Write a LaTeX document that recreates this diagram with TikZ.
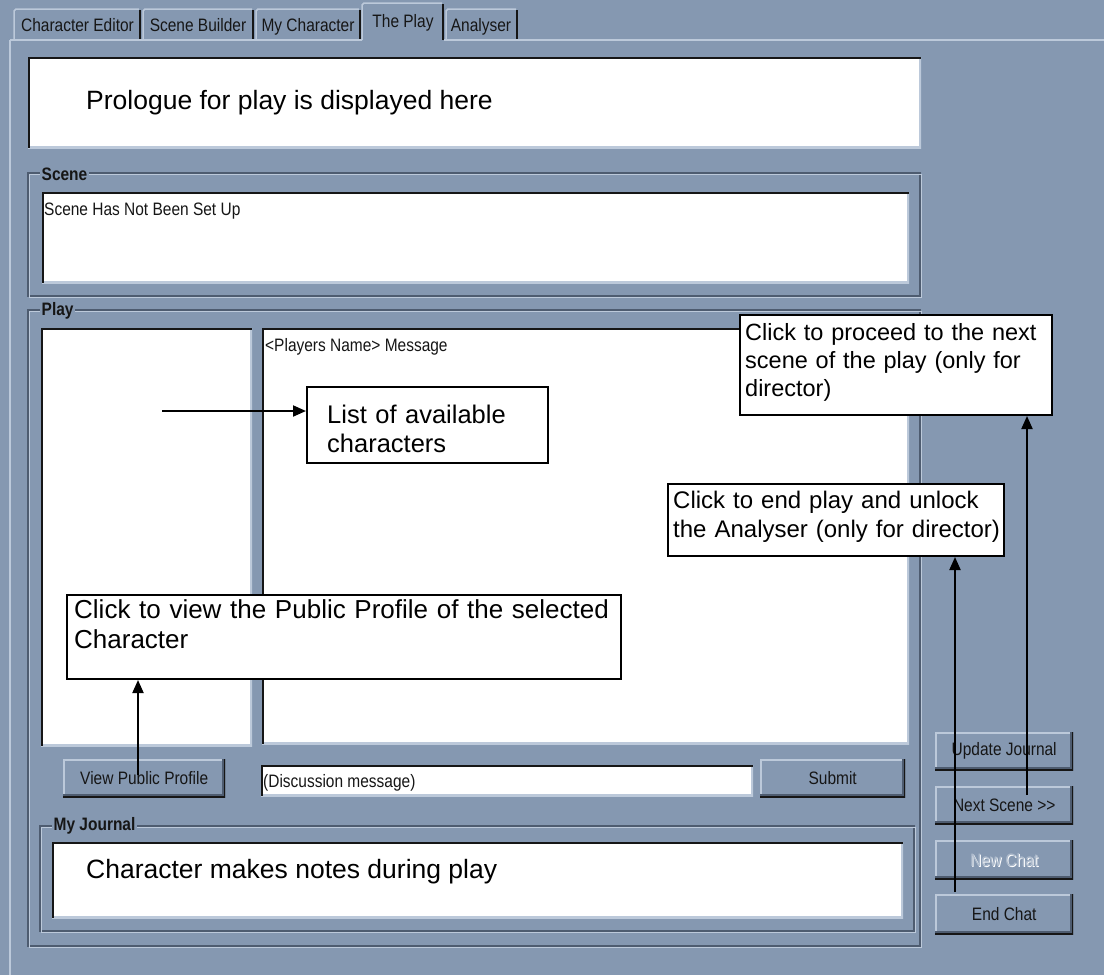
\documentclass[tikz,border=0pt]{standalone}
\usepackage{fontspec}
\setmainfont{Liberation Sans}
\newfontfamily\uifont[FakeStretch=0.86]{Liberation Sans}
\usetikzlibrary{arrows.meta}

\definecolor{uibg}{RGB}{133,152,177}
\definecolor{uilight}{RGB}{188,201,218}
\definecolor{uidark}{RGB}{78,92,112}
\definecolor{uiblack}{RGB}{22,22,22}
\definecolor{uigrey}{RGB}{172,186,204}

\tikzset{
  ui/.style={font=\uifont\fontsize{18}{21}\selectfont, inner sep=0pt, text=uiblack},
  grouplabel/.style={font=\uifont\bfseries\fontsize{18}{21}\selectfont, inner sep=1.5pt, fill=uibg, text=uiblack},
  raised/.style={rectangle, fill=uibg, inner sep=0pt, anchor=north west,
    font=\uifont\fontsize{18}{21}\selectfont, text=uiblack,
    path picture={
      \draw[uilight, line width=3pt] (path picture bounding box.south west) -- (path picture bounding box.north west) -- (path picture bounding box.north east);
      \draw[uidark, line width=6pt] (path picture bounding box.north east) -- (path picture bounding box.south east) -- (path picture bounding box.south west);
      \draw[uiblack, line width=3pt] (path picture bounding box.north east) -- (path picture bounding box.south east) -- (path picture bounding box.south west);
    }},
  sunken/.style={rectangle, fill=white, inner sep=0pt, anchor=north west,
    path picture={
      \draw[uilight, line width=4pt] (path picture bounding box.south west) -- (path picture bounding box.south east) -- (path picture bounding box.north east);
      \draw[uiblack, line width=4pt] (path picture bounding box.south west) -- (path picture bounding box.north west) -- (path picture bounding box.north east);
    }},
  groupdark/.style={uidark, line width=1.5pt},
  grouplight/.style={uilight, line width=1.5pt},
  tabedge/.style={uilight, line width=1.5pt},
  tabshade/.style={uiblack, line width=1.5pt},
  notebox/.style={rectangle, draw=black, line width=2pt, fill=white, inner sep=0pt, anchor=north west},
  notetext/.style={inner sep=0pt, align=left, anchor=base west, text=black},
  pointer/.style={line width=2pt, -{Triangle[length=13pt,width=11pt]}},
}

\begin{document}
\begin{tikzpicture}[x=1pt, y=-1pt]
  \useasboundingbox (0,0) rectangle (1104,975);
  \fill[uibg] (0,0) rectangle (1104,975);

  % ---- tab strip ----
  \draw[tabedge] (10,40) -- (362,40);
  \draw[tabedge] (444,40) -- (1104,40);
  \draw[tabedge] (10,40) -- (10,975);

  \draw[tabedge] (14,40) -- (14,11) -- (16,9) -- (139,9);
  \draw[tabshade] (140,10) -- (140,39);
  \node[ui, anchor=base] (tabeditor) at (77.5,31) {Character Editor};

  \draw[tabedge] (143,40) -- (143,11) -- (145,9) -- (252,9);
  \draw[tabshade] (253,10) -- (253,39);
  \node[ui, anchor=base] (tabbuilder) at (198,31) {Scene Builder};

  \draw[tabedge] (256,40) -- (256,11) -- (258,9) -- (359,9);
  \draw[tabshade] (360,10) -- (360,39);
  \node[ui, anchor=base] (tabmychar) at (308,31) {My Character};

  \draw[tabedge] (362,40) -- (362,5) -- (364,3) -- (442,3);
  \draw[tabshade] (443,4) -- (443,40);
  \node[ui, anchor=base] (tabplay) at (403,27) {The Play};

  \draw[tabedge] (446,40) -- (446,11) -- (448,9) -- (516,9);
  \draw[tabshade] (517,10) -- (517,39);
  \node[ui, anchor=base] (tabanalyser) at (481,31) {Analyser};

  % ---- prologue ----
  \node[sunken, minimum width=893pt, minimum height=91pt] (prologue) at (28,57) {};

  % ---- scene group ----
  \draw[groupdark] (28,173) rectangle (920,296);
  \draw[grouplight] (29.5,174.5) rectangle (921.5,297.5);
  \node[grouplabel, anchor=west] (scenelabel) at (40,174) {Scene};
  \node[sunken, minimum width=867pt, minimum height=91pt] (scenebox) at (42,192) {};
  \node[ui, anchor=base west] (scenetext) at (44,215) {Scene Has Not Been Set Up};

  % ---- play group ----
  \draw[groupdark] (28,310) rectangle (920,946);
  \draw[grouplight] (29.5,311.5) rectangle (921.5,947.5);
  \node[grouplabel, anchor=west] (playlabel) at (40,311) {Play};
  \node[sunken, minimum width=211pt, minimum height=418pt] (charlist) at (41,328) {};
  \node[sunken, minimum width=647pt, minimum height=416pt] (messages) at (262,328) {};
  \node[ui, anchor=base west] (messagetext) at (265,351) {<Players Name> Message};

  \node[raised, minimum width=162pt, minimum height=38pt] (viewbtn) at (63,759) {View Public Profile};
  \node[sunken, minimum width=492pt, minimum height=31pt] (discussion) at (261,765) {};
  \node[ui, anchor=base west] (discussiontext) at (263,787) {(Discussion message)};
  \node[raised, minimum width=145pt, minimum height=38pt] (submitbtn) at (760,759) {Submit};

  % ---- journal group ----
  \draw[groupdark] (40,826) rectangle (914,931);
  \draw[grouplight] (41.5,827.5) rectangle (915.5,932.5);
  \node[grouplabel, anchor=west] (journallabel) at (52,826) {My Journal};
  \node[sunken, minimum width=851pt, minimum height=76pt] (journal) at (52,842) {};

  % ---- side buttons ----
  \node[raised, minimum width=138pt, minimum height=38pt] (updatebtn) at (935,732) {Update Journal};
  \node[raised, minimum width=138pt, minimum height=38pt] (nextbtn) at (935,786) {Next Scene >>};
  \node[raised, minimum width=138pt, minimum height=39pt] (newchatbtn) at (935,840) {};
  \node[ui, text=white] (newchatshadow) at ([shift={(1,1)}]newchatbtn.center) {New Chat};
  \node[ui, text=uigrey] (newchattext) at (newchatbtn.center) {New Chat};
  \node[raised, minimum width=138pt, minimum height=40pt] (endchatbtn) at (935,894) {End Chat};

  % ---- texts shown in the panes ----
  \node[notetext, font=\fontsize{26.5}{30}\selectfont] (prologuetext) at (86,109) {Prologue for play is displayed here};
  \node[notetext, font=\fontsize{26.5}{30}\selectfont] (journaltext) at (86,878) {Character makes notes during play};

  % ---- callouts ----
  \node[notebox, minimum width=241pt, minimum height=76pt] (listnote) at (306,386) {};
  \node[notetext, text width=230pt, font=\fontsize{25.5}{29}\selectfont] (listtext) at (327,423) {List of available\\characters};

  \node[notebox, minimum width=554pt, minimum height=84pt] (profilenote) at (66,594) {};
  \node[notetext, text width=545pt, font=\fontsize{26}{30}\selectfont] (profiletext) at (74,618) {Click to view the Public Profile of the selected\\Character};

  \node[notebox, minimum width=336pt, minimum height=72pt] (endnote) at (667,483) {};
  \node[notetext, text width=332pt, font=\fontsize{24}{29}\selectfont] (endtext) at (673,508) {Click to end play and unlock\\the Analyser (only for director)};

  \node[notebox, minimum width=312pt, minimum height=100pt] (proceednote) at (739,314) {};
  \node[notetext, text width=305pt, font=\fontsize{23.5}{28}\selectfont] (proceedtext) at (745,340) {Click to proceed to the next\\scene of the play (only for\\director)};

  % ---- pointers ----
  \coordinate (listtail) at (162,411);
  \coordinate (profiletail) at (138,775);
  \coordinate (endtail) at (955,892);
  \coordinate (nexttail) at (1027,795);
  \draw[pointer] (listtail) -- (listtail -| listnote.west);
  \draw[pointer] (profiletail) -- (profiletail |- profilenote.south);
  \draw[pointer] (endtail) -- (endtail |- endnote.south);
  \draw[pointer] (nexttail) -- (nexttail |- proceednote.south);
\end{tikzpicture}
\end{document}
